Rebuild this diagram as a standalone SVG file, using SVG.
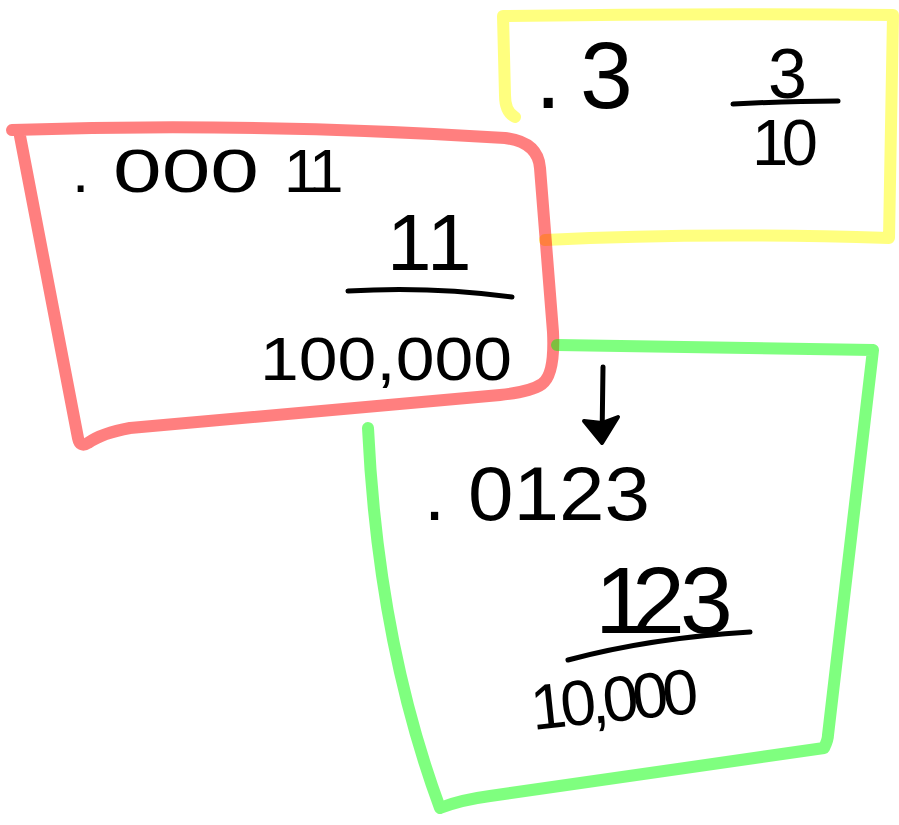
<svg xmlns="http://www.w3.org/2000/svg" width="899" height="825" viewBox="0 0 899 825">
<style>
.box{fill:none;stroke-width:12;stroke-linecap:round;stroke-linejoin:round;stroke-opacity:0.5}
.y{stroke:#ffff00}.r{stroke:#ff0000}.g{stroke:#00ff00}
.ink{fill:none;stroke:#000;stroke-width:5;stroke-linecap:round;stroke-linejoin:round}
text{font-family:"Liberation Sans","DejaVu Sans",sans-serif;fill:#000}
</style>
<rect width="899" height="825" fill="#fff"/>
<g id="node-yellow">
<path class="box y" d="M515 117 Q505 112 505 95 L503 16 Q700 13 893 15 L889 238 Q700 232 545 240"/>
<text x="535 580" y="108" font-size="95">.3</text>
<text x="768" y="98" font-size="70">3</text>
<path class="ink" d="M733 104 Q790 101 838 101"/>
<text x="752" y="165" font-size="65" textLength="66" lengthAdjust="spacing">10</text>
</g>
<g id="node-red">
<path class="box r" d="M12 130 Q250 122 505 138 Q538 142 540 168 L553 332 Q555 375 542 384 Q530 392 500 395 L130 428 Q102 433 88 443 Q80 448 78 438 L20 136"/>
<text y="192" font-size="62"><tspan x="72">.</tspan><tspan x="113" textLength="146" lengthAdjust="spacingAndGlyphs">000</tspan><tspan x="284 309">11</tspan></text>
<text x="387 427" y="270" font-size="80">11</text>
<path class="ink" d="M348 291 Q430 286 512 297"/>
<text x="260" y="380" font-size="62" textLength="252" lengthAdjust="spacingAndGlyphs">100,000</text>
</g>
<g id="node-green">
<path class="box g" d="M368 428 Q378 640 440 808 Q460 800 490 796 L824 748 Q828 740 828 735 L873 350 L557 345"/>
<text y="520" font-size="76"><tspan x="424">.</tspan><tspan x="468" textLength="182" lengthAdjust="spacingAndGlyphs">0123</tspan></text>
<text x="595 632 680" y="633" font-size="95">123</text>
<path class="ink" d="M568 660 Q650 638 750 632"/>
<text x="533" y="730" font-size="64" textLength="168" lengthAdjust="spacing" transform="rotate(-6 533 730)">10,000</text>
</g>
<g id="connectors">
<path class="ink" d="M603 367 L602 440"/>
<path d="M584 421 L602 443 L618 417 Q610 420 602 423 Z" fill="#000" stroke="#000" stroke-width="4" stroke-linejoin="round"/>
</g>
</svg>
